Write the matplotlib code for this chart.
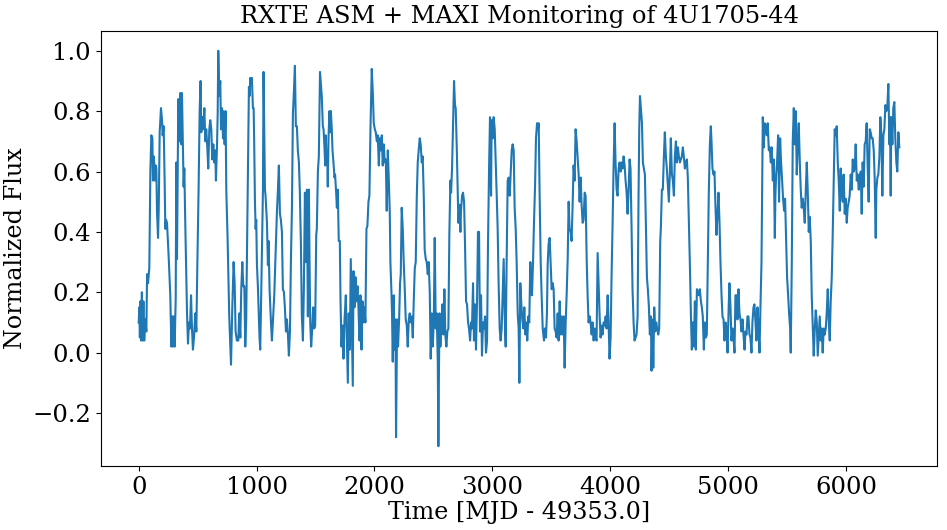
import numpy as np
import matplotlib
matplotlib.use("Agg")
import matplotlib.pyplot as plt

# light curve, split into four stretches of time
t1 = [0, 5, 10, 15, 20, 27, 33, 40, 47, 55,
      65, 71, 79, 90, 99, 107, 116, 121, 127, 133,
      138, 144, 150, 155, 164, 170, 178, 189, 198, 203,
      212, 220, 226, 232, 240, 254, 268, 277, 285, 291,
      297, 305, 314, 319, 325, 331, 336, 345, 353, 362,
      367, 373, 381, 387, 396, 410, 418, 427, 435, 444,
      452, 460, 469, 480, 489, 497, 508, 517, 525, 531,
      540, 548, 557, 565, 573, 582, 590, 599, 607, 616,
      624, 633, 641, 650, 655, 664, 670, 675, 684, 692,
      698, 706, 715, 720, 729, 737, 743, 754, 768, 783,
      794, 805, 814, 822, 833, 845, 853, 862, 870, 879,
      887, 896, 904, 912, 921, 927, 935, 941, 946, 955,
      960, 969, 975, 980, 986, 992, 997, 1003, 1011, 1020,
      1025, 1031, 1040, 1048, 1054, 1059, 1065, 1071, 1076, 1088,
      1096, 1102, 1110, 1122, 1130, 1138, 1150, 1161, 1172, 1181,
      1189, 1198, 1206, 1215, 1223, 1232, 1240, 1249, 1257, 1266,
      1274, 1283, 1291, 1300, 1308, 1316, 1325, 1333, 1342, 1350,
      1359, 1367, 1376, 1384, 1393, 1401, 1410, 1418, 1427, 1435,
      1444, 1449, 1455, 1463, 1472, 1480, 1489, 1497, 1506, 1511,
      1520, 1528]
f1 = [0.10, 0.15, 0.05, 0.17, 0.04, 0.20, 0.04, 0.17, 0.04, 0.11,
      0.07, 0.26, 0.23, 0.28, 0.60, 0.72, 0.71, 0.57, 0.65, 0.62,
      0.57, 0.62, 0.61, 0.47, 0.38, 0.48, 0.73, 0.81, 0.77, 0.72,
      0.75, 0.57, 0.41, 0.44, 0.43, 0.32, 0.19, 0.02, 0.12, 0.02,
      0.12, 0.02, 0.18, 0.63, 0.31, 0.58, 0.84, 0.70, 0.86, 0.69,
      0.86, 0.72, 0.55, 0.61, 0.41, 0.13, 0.03, 0.10, 0.08, 0.19,
      0.08, 0.01, 0.05, 0.13, 0.07, 0.28, 0.54, 0.80, 0.90, 0.73,
      0.78, 0.74, 0.81, 0.70, 0.74, 0.68, 0.61, 0.74, 0.77, 0.74,
      0.64, 0.69, 0.63, 0.67, 0.57, 0.68, 0.79, 1.00, 0.85, 0.90,
      0.74, 0.81, 0.71, 0.80, 0.69, 0.80, 0.54, 0.38, 0.12, -0.04,
      0.15, 0.30, 0.23, 0.07, 0.04, 0.04, 0.13, 0.05, 0.21, 0.30,
      0.22, 0.22, 0.02, 0.11, 0.41, 0.63, 0.88, 0.85, 0.91, 0.89,
      0.91, 0.81, 0.81, 0.69, 0.50, 0.41, 0.44, 0.29, 0.22, 0.11,
      0.05, 0.01, 0.21, 0.41, 0.54, 0.93, 0.74, 0.54, 0.52, 0.43,
      0.29, 0.37, 0.21, 0.10, 0.04, 0.10, 0.19, 0.32, 0.46, 0.54,
      0.62, 0.46, 0.44, 0.40, 0.21, 0.20, 0.15, 0.07, 0.11, 0.06,
      -0.01, 0.07, 0.30, 0.48, 0.79, 0.86, 0.95, 0.75, 0.75, 0.67,
      0.63, 0.53, 0.36, 0.12, 0.04, 0.21, 0.53, 0.30, 0.54, 0.12,
      0.54, 0.31, 0.10, 0.02, 0.08, 0.15, 0.08, 0.09, 0.39, 0.41,
      0.60, 0.65]

t2 = [1538, 1553, 1562, 1568, 1576, 1582, 1587, 1593, 1599, 1604,
      1610, 1618, 1624, 1630, 1638, 1644, 1652, 1661, 1666, 1675,
      1681, 1689, 1697, 1706, 1712, 1720, 1729, 1737, 1746, 1757,
      1765, 1774, 1782, 1791, 1799, 1808, 1816, 1822, 1830, 1839,
      1847, 1856, 1864, 1873, 1881, 1890, 1898, 1907, 1915, 1923,
      1932, 1940, 1949, 1957, 1966, 1977, 1986, 1994, 2003, 2011,
      2020, 2028, 2037, 2045, 2053, 2062, 2070, 2079, 2087, 2096,
      2104, 2113, 2121, 2130, 2135, 2144, 2149, 2155, 2164, 2169,
      2178, 2183, 2192, 2200, 2209, 2217, 2223, 2231, 2240, 2248,
      2257, 2265, 2274, 2282, 2291, 2299, 2308, 2316, 2325, 2333,
      2342, 2350, 2359, 2367, 2375, 2384, 2392, 2401, 2409, 2418,
      2426, 2435, 2443, 2452, 2460, 2469, 2477, 2486, 2494, 2503,
      2511, 2520, 2528, 2537, 2542, 2551, 2559, 2568, 2576, 2585,
      2593, 2601, 2610, 2618, 2627, 2635, 2644, 2650, 2658, 2666,
      2675, 2683, 2689, 2698, 2703, 2712, 2720, 2729, 2734, 2743,
      2751, 2760, 2768, 2777, 2785, 2794, 2802, 2811, 2819, 2827,
      2836, 2844, 2853, 2861, 2870, 2878, 2887, 2895, 2904, 2912,
      2921, 2929, 2938, 2946, 2955, 2963, 2972, 2980, 2989, 2994,
      3003, 3011, 3020, 3028, 3037, 3045, 3053, 3062, 3070, 3079,
      3087, 3096, 3104, 3113, 3121, 3130, 3138, 3147, 3155, 3164,
      3172, 3181, 3189, 3198, 3206, 3215, 3223, 3229, 3237, 3246,
      3254, 3263, 3271, 3280, 3288, 3296, 3305, 3313, 3322]
f2 = [0.93, 0.85, 0.75, 0.74, 0.68, 0.62, 0.72, 0.63, 0.65, 0.55,
      0.71, 0.80, 0.73, 0.80, 0.74, 0.67, 0.63, 0.58, 0.59, 0.53,
      0.48, 0.54, 0.37, 0.37, 0.17, 0.02, 0.09, -0.02, 0.11, 0.19,
      0.05, -0.10, 0.13, 0.01, 0.31, 0.08, -0.11, 0.27, 0.15, 0.25,
      0.17, 0.22, 0.15, 0.04, 0.19, 0.01, 0.17, 0.10, 0.15, 0.10,
      0.41, 0.42, 0.50, 0.52, 0.74, 0.94, 0.86, 0.76, 0.74, 0.73,
      0.70, 0.72, 0.62, 0.71, 0.67, 0.72, 0.62, 0.69, 0.63, 0.64,
      0.47, 0.67, 0.58, 0.46, 0.30, 0.20, 0.13, -0.03, 0.19, 0.01,
      0.11, -0.28, 0.11, 0.02, 0.11, 0.23, 0.26, 0.48, 0.41, 0.30,
      0.21, 0.11, 0.09, 0.02, 0.11, 0.13, 0.10, 0.12, 0.05, 0.17,
      0.28, 0.30, 0.52, 0.63, 0.67, 0.71, 0.69, 0.63, 0.65, 0.52,
      0.34, 0.31, 0.30, 0.26, 0.30, 0.20, -0.02, 0.13, 0.02, 0.10,
      0.38, 0.08, 0.13, -0.03, -0.31, 0.13, 0.02, 0.10, 0.16, 0.06,
      0.21, 0.06, 0.02, 0.07, 0.08, 0.39, 0.57, 0.53, 0.61, 0.74,
      0.90, 0.82, 0.81, 0.68, 0.59, 0.43, 0.49, 0.40, 0.47, 0.52,
      0.53, 0.50, 0.36, 0.17, 0.16, 0.10, 0.08, 0.04, 0.10, 0.08,
      0.23, 0.04, 0.16, 0.01, 0.17, 0.40, 0.40, 0.07, 0.19, -0.01,
      0.10, 0.08, 0.12, 0.00, 0.04, 0.36, 0.61, 0.78, 0.52, 0.77,
      0.71, 0.78, 0.74, 0.64, 0.52, 0.41, 0.23, 0.08, 0.04, 0.08,
      0.19, 0.31, 0.13, 0.02, 0.30, 0.57, 0.58, 0.52, 0.59, 0.67,
      0.69, 0.67, 0.48, 0.41, 0.30, 0.13, 0.08, -0.10, 0.23, 0.16,
      0.11, 0.08, 0.15, 0.06, 0.10, 0.04, 0.12, 0.10, 0.30]

t3 = [3328, 3336, 3345, 3353, 3362, 3370, 3379, 3387, 3393, 3401,
      3410, 3418, 3427, 3438, 3446, 3455, 3463, 3469, 3477, 3486,
      3494, 3503, 3511, 3520, 3528, 3537, 3545, 3554, 3562, 3571,
      3579, 3588, 3596, 3605, 3613, 3622, 3630, 3639, 3647, 3655,
      3664, 3672, 3681, 3689, 3698, 3706, 3715, 3723, 3732, 3740,
      3749, 3757, 3766, 3774, 3783, 3791, 3800, 3808, 3816, 3825,
      3833, 3842, 3850, 3859, 3867, 3876, 3884, 3893, 3901, 3910,
      3918, 3927, 3935, 3944, 3952, 3961, 3969, 3978, 3986, 3994,
      4003, 4011, 4020, 4028, 4037, 4045, 4054, 4062, 4071, 4079,
      4088, 4096, 4105, 4113, 4122, 4130, 4139, 4147, 4155, 4164,
      4172, 4181, 4189, 4198, 4206, 4215, 4223, 4232, 4240, 4246,
      4252, 4260, 4269, 4277, 4285, 4294, 4302, 4311, 4319, 4328,
      4336, 4345, 4350, 4359, 4365, 4373, 4381, 4390, 4398, 4407,
      4415, 4424, 4429, 4438, 4446, 4455, 4463, 4472, 4480, 4489,
      4497, 4506, 4514, 4523, 4531, 4540, 4548, 4557, 4565, 4574,
      4582, 4591, 4599, 4607, 4616, 4624, 4633, 4641, 4650, 4658,
      4667, 4675, 4684, 4692, 4701, 4709, 4718, 4726, 4735, 4743,
      4752, 4760, 4769, 4777, 4785, 4794, 4802, 4811, 4819, 4828,
      4836, 4845, 4853, 4859, 4867, 4876, 4884, 4893, 4901, 4910,
      4918, 4927, 4935, 4944, 4952, 4961, 4969, 4978, 4986, 4995,
      5003, 5011, 5020, 5028, 5037, 5045, 5054, 5062, 5071, 5079,
      5088, 5096]
f3 = [0.21, 0.19, 0.30, 0.43, 0.55, 0.71, 0.76, 0.74, 0.76, 0.52,
      0.30, 0.19, 0.08, 0.04, 0.08, 0.05, 0.13, 0.29, 0.36, 0.38,
      0.30, 0.21, 0.23, 0.21, 0.08, 0.07, 0.05, 0.13, 0.04, 0.17,
      0.06, 0.12, 0.06, 0.12, -0.05, 0.10, 0.19, 0.31, 0.50, 0.41,
      0.40, 0.37, 0.49, 0.62, 0.57, 0.74, 0.70, 0.65, 0.59, 0.50,
      0.58, 0.49, 0.43, 0.44, 0.53, 0.52, 0.31, 0.19, 0.10, 0.12,
      0.10, 0.06, 0.10, 0.04, 0.08, 0.05, 0.04, 0.33, 0.23, 0.12,
      0.05, 0.09, 0.06, 0.10, 0.09, 0.12, 0.08, 0.19, 0.10, -0.02,
      0.05, 0.25, 0.43, 0.61, 0.76, 0.63, 0.54, 0.52, 0.61, 0.63,
      0.60, 0.63, 0.61, 0.65, 0.62, 0.57, 0.53, 0.46, 0.53, 0.64,
      0.61, 0.41, 0.21, 0.10, 0.04, 0.05, 0.06, 0.12, 0.52, 0.74,
      0.85, 0.81, 0.76, 0.63, 0.61, 0.59, 0.43, 0.25, 0.21, 0.15,
      0.06, 0.12, -0.06, 0.11, -0.05, 0.15, 0.07, 0.10, 0.08, 0.06,
      0.08, 0.37, 0.41, 0.54, 0.54, 0.65, 0.73, 0.65, 0.61, 0.55,
      0.50, 0.60, 0.71, 0.59, 0.57, 0.52, 0.65, 0.70, 0.63, 0.68,
      0.65, 0.63, 0.64, 0.65, 0.68, 0.65, 0.61, 0.63, 0.64, 0.58,
      0.43, 0.30, 0.13, 0.01, 0.10, 0.02, 0.17, 0.01, 0.21, 0.20,
      0.19, 0.21, 0.17, 0.15, 0.12, 0.01, 0.10, 0.05, 0.06, 0.30,
      0.53, 0.69, 0.75, 0.70, 0.61, 0.59, 0.60, 0.48, 0.39, 0.46,
      0.53, 0.43, 0.30, 0.19, 0.12, 0.11, 0.04, 0.10, 0.08, 0.00,
      0.13, 0.23, 0.15, 0.04, 0.08, 0.05, 0.00, 0.19, 0.19, 0.11,
      0.21, 0.13]

t4 = [5105, 5113, 5122, 5130, 5139, 5147, 5156, 5164, 5172, 5181,
      5189, 5198, 5206, 5215, 5223, 5232, 5240, 5249, 5257, 5266,
      5274, 5283, 5288, 5294, 5302, 5311, 5319, 5328, 5336, 5345,
      5353, 5362, 5370, 5379, 5387, 5396, 5401, 5407, 5415, 5424,
      5432, 5441, 5449, 5458, 5466, 5475, 5483, 5492, 5500, 5509,
      5517, 5526, 5531, 5540, 5548, 5557, 5565, 5574, 5582, 5591,
      5599, 5608, 5616, 5624, 5633, 5641, 5650, 5658, 5667, 5675,
      5684, 5692, 5701, 5709, 5718, 5726, 5735, 5743, 5752, 5760,
      5769, 5777, 5786, 5794, 5802, 5811, 5819, 5828, 5836, 5845,
      5853, 5862, 5870, 5879, 5887, 5896, 5904, 5913, 5921, 5930,
      5938, 5947, 5955, 5964, 5972, 5980, 5989, 5997, 6006, 6014,
      6023, 6031, 6040, 6048, 6057, 6065, 6074, 6082, 6091, 6099,
      6108, 6116, 6125, 6133, 6141, 6150, 6158, 6167, 6175, 6184,
      6192, 6201, 6209, 6218, 6226, 6235, 6243, 6252, 6257, 6266,
      6274, 6283, 6291, 6300, 6308, 6317, 6325, 6334, 6342, 6351,
      6359, 6368, 6373, 6379, 6384, 6393, 6401, 6410, 6418, 6427,
      6435, 6444, 6452]
f4 = [0.11, 0.07, 0.11, 0.06, 0.01, 0.07, 0.06, 0.12, 0.12, 0.06,
      0.05, 0.00, 0.10, 0.15, 0.16, 0.10, 0.04, 0.15, 0.09, 0.00,
      0.15, 0.30, 0.52, 0.78, 0.68, 0.76, 0.75, 0.72, 0.76, 0.67,
      0.68, 0.63, 0.68, 0.57, 0.64, 0.38, 0.52, 0.59, 0.63, 0.72,
      0.50, 0.71, 0.63, 0.57, 0.51, 0.47, 0.51, 0.37, 0.25, 0.19,
      0.13, 0.08, 0.00, 0.30, 0.70, 0.81, 0.69, 0.80, 0.59, 0.69,
      0.76, 0.63, 0.54, 0.48, 0.51, 0.48, 0.43, 0.53, 0.63, 0.54,
      0.40, 0.45, 0.37, 0.19, 0.08, -0.01, 0.08, 0.14, 0.10, -0.01,
      0.06, 0.12, 0.04, 0.08, 0.00, 0.08, 0.06, 0.08, 0.13, 0.21,
      0.11, 0.04, 0.17, 0.25, 0.39, 0.57, 0.74, 0.72, 0.75, 0.63,
      0.57, 0.47, 0.61, 0.54, 0.50, 0.59, 0.46, 0.51, 0.43, 0.48,
      0.50, 0.52, 0.59, 0.54, 0.64, 0.60, 0.61, 0.69, 0.57, 0.59,
      0.54, 0.58, 0.60, 0.46, 0.63, 0.55, 0.69, 0.70, 0.76, 0.61,
      0.50, 0.74, 0.73, 0.71, 0.71, 0.67, 0.58, 0.38, 0.54, 0.58,
      0.59, 0.65, 0.78, 0.72, 0.52, 0.72, 0.74, 0.82, 0.80, 0.82,
      0.89, 0.69, 0.78, 0.52, 0.78, 0.69, 0.81, 0.83, 0.71, 0.63,
      0.60, 0.73, 0.68]

time = np.concatenate([t1, t2, t3, t4])
flux = np.concatenate([f1, f2, f3, f4])

plt.rcParams['font.family'] = 'serif'
plt.rcParams['font.size'] = 17

fig = plt.figure(figsize=(9.47, 5.3), dpi=100)
ax = fig.add_axes([0.1063, 0.1208, 0.8835, 0.8207])
ax.plot(time, flux, color='#1f77b4', linewidth=1.5)

ax.set_title('RXTE ASM + MAXI Monitoring of 4U1705-44', fontsize=17.4)
ax.set_xlabel('Time [MJD - 49353.0]', fontsize=17.2, labelpad=2)
ax.set_ylabel('Normalized Flux', fontsize=17.2)
ax.tick_params(labelsize=17.5)

fig.savefig('out.png', dpi=100)
